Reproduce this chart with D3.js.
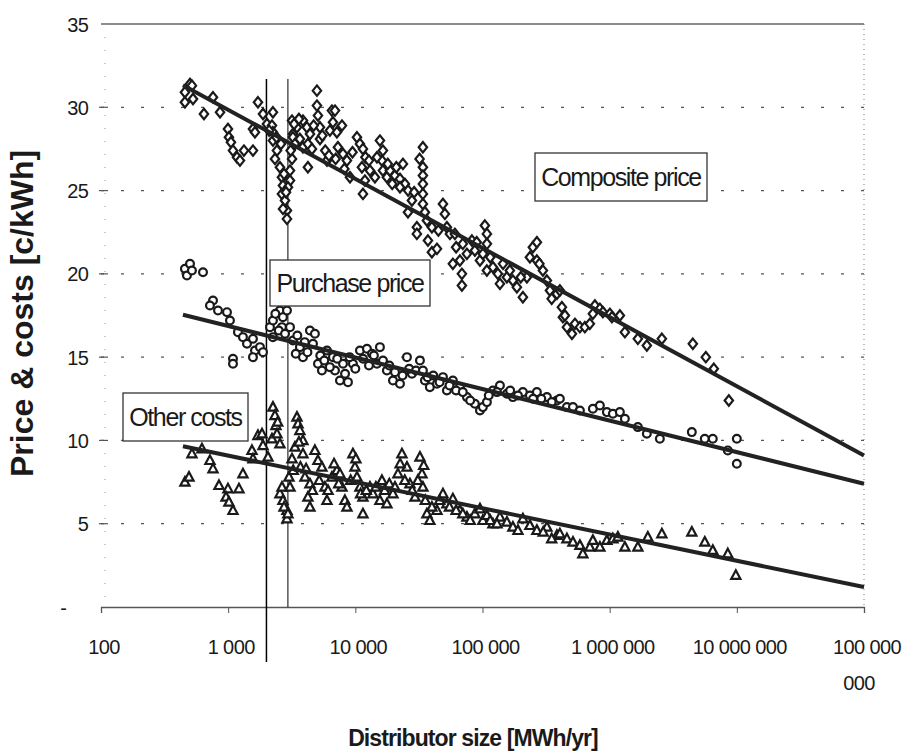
<!DOCTYPE html>
<html><head><meta charset="utf-8">
<script src="https://cdn.jsdelivr.net/npm/d3@7"></script>
<style>
html,body{margin:0;padding:0;background:#fff;}
svg{display:block;font-family:"Liberation Sans",Arial,sans-serif;}
</style></head>
<body>
<svg id="chart" width="909" height="754"></svg>
<script>
// ---------- DATA ----------
const sizeTicks = [100, 1e3, 1e4, 1e5, 1e6, 1e7, 1e8];
const sizeTickLabels = [["100"],["1 000"],["10 000"],["100 000"],["1 000 000"],["10 000 000"],["100 000","000"]];
const valueTicks = [0, 5, 10, 15, 20, 25, 30, 35];
const valueTickLabels = ["-", "5", "10", "15", "20", "25", "30", "35"];

const seriesNames = ["Composite price", "Purchase price", "Other costs"];

// [distributor size MWh/yr, c/kWh]
const compositePrice = [
[457,30.9],[501,31.4],[519,31.3],[457,30.3],[529,30.5],[645,29.6],[863,29.7],[760,30.6],[996,28.7],[1014,28.2],
[1052,27.9],[1091,27.4],[1173,27.0],[1238,26.8],[1331,27.4],[1567,27.4],[1715,30.3],[1567,28.7],[1625,28.5],[1879,29.6],
[2018,29.0],[2250,29.7],[2210,28.9],[2250,28.5],[2250,28.0],[2419,27.4],[2333,26.9],[2553,26.4],[2648,25.8],[2697,25.3],
[2648,24.8],[2798,24.4],[2900,23.8],[2900,23.3],[3063,26.2],[3177,26.9],[3177,29.2],[3230,28.4],[3063,25.6],[2953,25.2],
[3475,28.8],[3873,29.2],[4159,28.8],[3230,28.2],[3350,27.8],[3665,28.1],[3873,27.6],[4237,27.8],[4560,27.5],[4237,26.4],
[4990,31.0],[4990,30.1],[5082,29.5],[5272,28.8],[5272,28.1],[5984,26.8],[6546,29.8],[6918,29.8],[6668,29.1],[6310,28.6],
[7161,28.5],[7852,28.9],[7295,27.6],[7998,27.2],[8590,26.8],[9078,25.8],[10300,28.2],[10870,27.8],[11480,27.5],[11270,26.4],
[11890,25.6],[11480,24.8],[13030,26.2],[14260,25.8],[15610,28.0],[16480,27.4],[16190,26.8],[16480,26.2],[17710,25.8],[18700,26.2],
[20480,25.9],[22440,25.7],[23680,26.6],[24550,25.4],[22440,25.2],[33980,27.6],[33980,26.4],[33980,25.9],[33980,25.4],[33980,24.8],
[33980,24.2],[35240,23.7],[36560,23.2],[30480,22.8],[30480,22.4],[25940,23.7],[27860,24.4],[37240,22.0],[39990,21.3],[43850,21.5],
[48860,24.2],[50600,23.6],[52480,22.8],[55460,22.4],[60670,22.4],[58480,20.6],[66410,20.8],[68870,20.0],[68870,19.3],[75390,21.2],
[82600,22.0],[87100,21.4],[95500,20.8],[104400,22.9],[108300,22.4],[108300,21.8],[100700,21.2],[108300,20.2],[120800,20.4],[132200,20.0],
[137100,19.4],[155600,19.8],[164100,20.2],[173400,19.6],[186300,19.2],[207800,18.6],[223400,19.8],[235900,21.0],[248900,21.6],[267700,21.9],
[267700,20.8],[298500,20.2],[320900,19.6],[339100,19.0],[384600,18.8],[405800,19.0],[421000,18.0],[428600,17.4],[444500,17.5],[461300,16.8],
[505100,16.4],[533300,17.0],[583400,16.8],[638300,16.8],[698300,17.0],[737900,17.6],[765100,18.1],[837600,17.9],[884400,17.7],[1004000,17.6],
[1042000,17.4],[1203000,17.5],[1317000,16.5],[1666000,16.1],[1960000,15.7],[2573000,16.1],[4508000,15.8],[5703000,15.0],[6592000,14.3],[8650000,12.4],
[2100,28.6],[2400,28.2],[2600,27.8],[2750,26.0],[2850,24.9],[2700,23.9],[3100,27.4],[3300,29.0],[3600,29.3],[4400,28.4],
[4700,28.9],[5500,28.3],[5800,27.4],[6200,27.1],[7000,26.9],[8200,26.3],[9500,27.3],[12000,27.0],[12800,26.8],[14800,27.0],
[18000,26.6],[19500,25.4],[21000,26.4],[26000,25.0],[29000,24.9],[32000,26.9],[40000,22.8],[45000,22.6],[62000,21.6],[70000,21.8],
[90000,21.9],[115000,21.0],[145000,20.6],[200000,19.8],[280000,20.6],[350000,18.5]
];

const purchasePrice = [
[457,20.3],[501,20.6],[474,19.9],[519,20.2],[634,20.1],[760,18.4],[719,18.1],[832,17.8],[979,17.7],[1033,17.2],
[1194,16.5],[1307,16.2],[1406,15.8],[1567,16.1],[1625,15.4],[1567,15.0],[1778,15.6],[1879,15.3],[1091,14.9],[1091,14.6],
[2132,16.8],[2250,17.2],[2553,17.8],[2697,17.4],[2900,17.8],[2648,16.8],[3063,16.8],[2250,16.2],[3230,16.0],[3665,15.6],
[3873,15.0],[4395,16.6],[4810,16.4],[4645,15.8],[5082,14.6],[5460,14.2],[5984,15.4],[6668,15.0],[6918,14.2],[7568,13.6],
[8750,13.5],[7998,14.6],[9572,14.6],[10870,15.4],[12340,15.5],[13520,15.2],[15610,15.6],[14790,14.6],[17710,14.2],[19760,13.6],
[22440,13.4],[25460,15.0],[27860,14.0],[32210,14.8],[35240,13.6],[38550,13.2],[43850,13.4],[48860,13.8],[52480,13.0],[58480,13.6],
[66410,13.2],[75390,12.6],[87100,12.2],[95500,11.8],[100700,12.0],[108300,12.3],[120800,13.0],[137100,13.3],[155600,12.8],[173400,12.6],
[207800,12.9],[235900,12.7],[267700,12.9],[320900,12.6],[384600,12.4],[405800,12.5],[461300,12.0],[514600,12.0],[583400,11.8],[737900,11.9],
[837600,12.1],[951000,11.7],[1060000,11.6],[1203000,11.7],[1317000,11.3],[1666000,10.8],[1960000,10.4],[2481000,10.1],[4426000,10.5],[5598000,10.1],
[6471000,10.1],[8492000,9.4],[10000000,10.1],[10000000,8.6],
[2350,17.6],[2500,16.6],[2800,16.4],[3400,15.2],[3500,16.3],[4000,15.9],[4200,15.3],[5300,15.1],[5700,14.8],[6300,14.4],
[7200,14.9],[8300,14.0],[9000,15.0],[10000,14.3],[11500,14.9],[12800,14.5],[14000,15.1],[16500,14.8],[18500,14.5],[20500,14.1],
[23500,13.9],[26500,14.3],[30000,14.2],[34000,14.2],[37000,13.8],[41000,13.9],[46000,13.5],[55000,13.3],[62000,13.0],[70000,12.9],
[80000,12.4],[112000,12.7],[130000,12.9],[165000,13.0],[190000,12.7],[250000,12.5],[290000,12.5],[350000,12.3]
];

const otherCosts = [
[519,9.2],[622,9.5],[719,8.8],[760,8.3],[457,7.5],[492,7.8],[847,7.3],[996,7.1],[962,6.6],[1014,6.3],
[1091,5.8],[1216,7.1],[1307,8.0],[1539,9.4],[1567,8.9],[1715,10.3],[1845,10.4],[1879,9.7],[2056,9.0],[2210,10.1],
[2250,12.0],[2333,11.5],[2375,10.9],[2419,10.4],[2553,9.8],[2553,6.8],[2697,6.4],[2900,5.8],[2900,5.3],[3008,7.8],
[3063,7.2],[3177,8.9],[3350,9.6],[3475,11.4],[3540,11.0],[3665,10.6],[3873,10.0],[3873,9.2],[4016,7.8],[4395,7.4],
[4237,6.6],[4395,6.0],[4810,9.4],[5082,8.8],[5460,8.4],[5768,7.2],[5984,6.4],[6546,7.8],[7161,8.2],[7568,8.0],
[7852,7.2],[8279,6.4],[8590,6.0],[9572,9.2],[9931,8.4],[10300,7.8],[10870,7.2],[11480,6.6],[11480,5.6],[13030,7.2],
[13750,6.8],[15610,6.4],[16190,7.6],[17710,6.2],[19760,6.8],[21630,8.0],[23250,9.2],[25460,8.4],[26870,7.4],[29440,6.6],
[32210,9.0],[33420,8.0],[33980,7.2],[36560,5.6],[38550,5.2],[43850,5.8],[48860,6.8],[52480,6.2],[58480,6.5],[66410,5.8],
[75390,5.4],[87100,5.6],[95500,5.9],[100700,5.2],[108300,5.5],[120800,5.0],[137100,5.4],[155600,5.1],[173400,4.8],[207800,5.3],
[235900,4.9],[267700,4.6],[320900,4.8],[384600,4.3],[405800,4.4],[461300,4.1],[514600,3.9],[583400,3.7],[615400,3.2],[698300,3.6],
[737900,4.0],[837600,3.6],[951000,4.0],[1060000,4.1],[1160000,4.2],[1317000,3.6],[1666000,3.6],[1995000,4.2],[2573000,4.4],[4426000,4.5],
[5598000,3.9],[6471000,3.4],[8492000,3.2],[9817000,1.9],
[2450,11.1],[2650,7.2],[2750,6.0],[2950,5.6],[3250,8.2],[3600,9.9],[3700,8.4],[4100,8.3],[4600,7.0],[5200,7.6],
[6100,7.0],[6800,8.6],[7400,7.4],[9200,7.6],[10100,8.9],[11000,6.8],[12200,7.0],[14500,7.2],[17000,7.0],[18500,7.4],
[20500,7.2],[22500,8.6],[24500,7.6],[28000,7.0],[31000,7.6],[34500,8.5],[35500,6.4],[40000,6.0],[46000,6.4],[55000,6.0],
[62000,5.8],[70000,5.6],[80000,5.2],[115000,5.2],[130000,5.0],[190000,4.6],[300000,4.5],[350000,4.1]
];

// logarithmic trend lines: value = intercept + slope * log10(size)
const trendIntercept = [42.3, 22.56, 13.82];
const trendSlope = [-4.15, -1.895, -1.578];
const trendRange = [441, 1e8];

// vertical reference lines (size, value range)
const refSizes = [2000, 2950];
const refRanges = [[-3.3, 31.7], [0, 31.7]];

// ---------- CHART ----------
const svg = d3.select("#chart");
const L = 101, R = 864, T = 24, B = 607;
const x = d3.scaleLog().domain([100, 1e8]).range([L, R]);
const y = d3.scaleLinear().domain([0, 35]).range([B, T]);
const ink = "#1a1a1a";

// gridlines
const grid = svg.append("g");
grid.selectAll("line.g").data(valueTicks.filter(v => v > 0 && v < 35)).enter().append("line")
  .attr("x1", L).attr("x2", R).attr("y1", d => y(d)).attr("y2", d => y(d))
  .attr("stroke", "#555").attr("stroke-width", 1.2).attr("stroke-dasharray", "3,17");
grid.append("line").attr("x1", L).attr("x2", R).attr("y1", y(35)).attr("y2", y(35))
  .attr("stroke", "#666").attr("stroke-width", 1.3);
grid.append("line").attr("x1", R).attr("x2", R).attr("y1", y(35)).attr("y2", y(0))
  .attr("stroke", "#777").attr("stroke-width", 1).attr("stroke-dasharray", "1,4");
grid.append("line").attr("x1", L + 4).attr("x2", L + 4).attr("y1", y(35)).attr("y2", y(0))
  .attr("stroke", "#999").attr("stroke-width", 1).attr("stroke-dasharray", "1,12");

// x axis
const xAxis = d3.axisBottom(x).tickValues(sizeTicks).tickSize(6).tickFormat("");
const gx = svg.append("g").attr("transform", `translate(0,${B})`).call(xAxis);
gx.select(".domain").attr("stroke", "#555").attr("stroke-width", 1.3);
gx.selectAll(".tick line").attr("stroke", "#555");
gx.selectAll(".tick").filter(d => d === 100 || d === 1e8).select("line").remove();
const xl = svg.append("g").attr("font-size", 20).attr("fill", ink).attr("letter-spacing", -0.6);
sizeTicks.forEach((t, i) => {
  const txt = xl.append("text").attr("x", x(t) + 3).attr("y", 654).attr("text-anchor", "middle");
  sizeTickLabels[i].forEach((s, j) => {
    txt.append("tspan").attr("x", x(t) + 3 - (j ? 8 : 0)).attr("dy", j ? 36 : 0).text(s);
  });
});

// y axis
const yAxis = d3.axisLeft(y).tickValues(valueTicks).tickSize(0).tickFormat((d, i) => valueTickLabels[i]);
const gy = svg.append("g").attr("transform", `translate(${L - 13},0)`).call(yAxis);
gy.select(".domain").remove();
gy.selectAll(".tick text").attr("font-size", 20).attr("fill", ink).attr("letter-spacing", -0.8)
  .attr("font-family", "Liberation Sans, Arial, sans-serif").attr("x", 0).attr("dy", "0.35em");
gy.selectAll(".tick").filter(d => d === 0).select("text").attr("x", -22);
svg.append("g").selectAll("line").data(valueTicks.filter(v => v > 0 && v < 35)).enter().append("line")
  .attr("x1", L - 2).attr("x2", L + 7).attr("y1", d => y(d)).attr("y2", d => y(d))
  .attr("stroke", "#555").attr("stroke-width", 1.2);

// reference lines
svg.append("g").selectAll("line").data(refSizes).enter().append("line")
  .attr("x1", d => x(d)).attr("x2", d => x(d))
  .attr("y1", (d, i) => y(refRanges[i][1])).attr("y2", (d, i) => y(refRanges[i][0]))
  .attr("stroke", "#000").attr("stroke-width", (d, i) => i ? 1 : 1.5);

// markers
const mk = svg.append("g").attr("fill", "#fff").attr("stroke", ink).attr("stroke-width", 2.2);
const diamond = "M0,-5.2L4.2,0L0,5.2L-4.2,0Z";
const triangle = "M0,-5L4.6,3.6L-4.6,3.6Z";
mk.selectAll("path.c").data(compositePrice).enter().append("path")
  .attr("d", diamond).attr("transform", d => `translate(${x(d[0])},${y(d[1])})`);
mk.selectAll("circle.p").data(purchasePrice).enter().append("circle")
  .attr("r", 3.9).attr("cx", d => x(d[0])).attr("cy", d => y(d[1]));
mk.selectAll("path.o").data(otherCosts).enter().append("path")
  .attr("d", triangle).attr("transform", d => `translate(${x(d[0])},${y(d[1])})`);

// trend lines
const trendLine = d3.line().x(d => x(d[0])).y(d => y(d[1]));
svg.append("g").selectAll("path").data(trendIntercept).enter().append("path")
  .attr("d", (a, i) => trendLine(trendRange.map(s => [s, a + trendSlope[i] * Math.log10(s)])))
  .attr("fill", "none").attr("stroke", "#222").attr("stroke-width", 4);

// labels in boxes
const boxes = [
  {name: seriesNames[0], x0: 535, y0: 153, x1: 707, y1: 201},
  {name: seriesNames[1], x0: 270, y0: 260, x1: 430, y1: 306},
  {name: seriesNames[2], x0: 123, y0: 393, x1: 248, y1: 441}
];
const bg = svg.append("g");
boxes.forEach(b => {
  bg.append("rect").attr("x", b.x0).attr("y", b.y0).attr("width", b.x1 - b.x0).attr("height", b.y1 - b.y0)
    .attr("fill", "#fff").attr("stroke", "#333").attr("stroke-width", 1.3);
  bg.append("text").attr("x", (b.x0 + b.x1) / 2).attr("y", (b.y0 + b.y1) / 2 + 9)
    .attr("text-anchor", "middle").attr("font-size", 25).attr("letter-spacing", -1.4)
    .attr("fill", ink).text(b.name);
});

// axis titles
svg.append("text").attr("x", 473).attr("y", 746).attr("text-anchor", "middle")
  .attr("font-size", 23).attr("font-weight", "bold").attr("letter-spacing", -0.9).attr("fill", ink)
  .text("Distributor size [MWh/yr]");
svg.append("text").attr("transform", "translate(33,477) rotate(-90)").attr("text-anchor", "start")
  .attr("font-size", 32).attr("font-weight", "bold").attr("fill", ink)
  .text("Price & costs [c/kWh]");
</script>
</body></html>
